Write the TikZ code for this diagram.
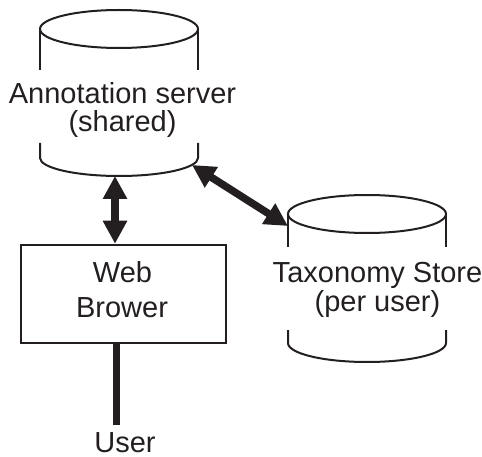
\documentclass[tikz,border=0pt]{standalone}
\usepackage{fontspec}
\setmainfont{Liberation Sans}
\usetikzlibrary{arrows.meta,calc}
\definecolor{inkc}{RGB}{35,31,32}
\begin{document}
\begin{tikzpicture}[x=1pt,y=-1pt,
  outline/.style={draw=inkc, line width=2pt},
  txt/.style={font=\fontsize{29}{34}\selectfont, text=inkc, inner sep=0pt, anchor=base},
  dbl/.style={draw=inkc, line width=7.5pt,
    {Triangle[length=23pt,width=23pt]}-{Triangle[length=23pt,width=23pt]}},
  wire/.style={draw=inkc, line width=7pt}]
\useasboundingbox (0,0) rectangle (482,457);

% Annotation server drum
\draw[outline] (119,29) ellipse [x radius=79, y radius=19];
\draw[outline] (40,29) -- (40,70) (198,29) -- (198,70);
\draw[outline] (40,143) -- (40,158) arc[start angle=180, end angle=0, x radius=79, y radius=18] -- (198,143);
\node[txt] (ann1) at (122.5,104) {Annotation server};
\node[txt] (ann2) at (122.5,132) {(shared)};
\coordinate (annbot) at (115,176);
\coordinate (annright) at (192,165);

% Taxonomy store drum
\draw[outline] (367,214) ellipse [x radius=79, y radius=19];
\draw[outline] (288,214) -- (288,247) (446,214) -- (446,247);
\draw[outline] (288,330) -- (288,343) arc[start angle=180, end angle=0, x radius=79, y radius=19] -- (446,330);
\node[txt] (tax1) at (377.5,283) {Taxonomy Store};
\node[txt] (tax2) at (377.5,311) {(per user)};
\coordinate (taxleft) at (288,226);

% Browser box
\node[draw=inkc, line width=2.5pt, minimum width=205pt, minimum height=98pt, inner sep=0pt] (web) at (123.5,294) {};
\node[txt] (web1) at (122.5,283) {Web};
\node[txt] (web2) at (122,317) {Brower};

% User
\node[txt] (user) at (125,452) {User};
\coordinate (userend) at (116,425);

% Connectors
\draw[dbl] (annbot) -- (web.north -| annbot);
\draw[dbl] (annright) -- (taxleft);
\draw[wire] (web.south -| userend) -- (userend);
\end{tikzpicture}
\end{document}
